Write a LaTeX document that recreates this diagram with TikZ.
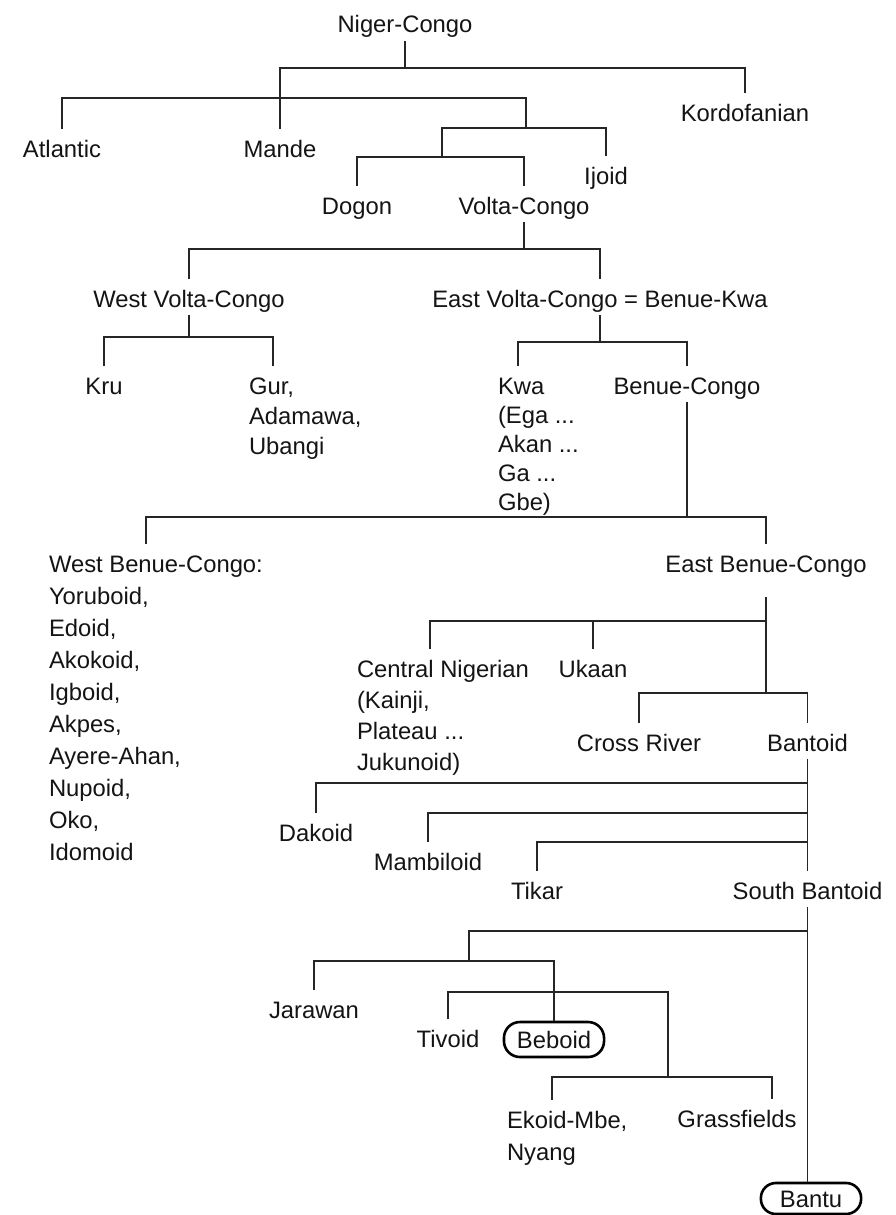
\documentclass[tikz,border=0pt]{standalone}
\usepackage{fontspec}
\setmainfont{Liberation Sans}
\newcommand{\lfont}{\fontsize{23.8}{30}\selectfont}
\newcommand{\mlines}[2]{\vtop{\baselineskip=#1\lineskiplimit=-100pt #2}}
\begin{document}
\begin{tikzpicture}[x=1pt,y=-1pt,
  lab/.style={inner sep=0pt, outer sep=0pt, text height=28pt, text depth=8pt, font=\lfont, text=black!92, anchor=base},
  labw/.style={lab, anchor=base west},
  boxed/.style={draw=black, line width=2.6pt, rounded corners=15pt, inner ysep=9pt, text height=17pt, text depth=0pt, font=\lfont, text=black!92},
  edge/.style={line width=1.5pt, draw=black!85}]
\useasboundingbox[fill=white] (0,0) rectangle (895,1215);

% ---- nodes ----
\node[lab] (nc) at (405,33) {Niger-Congo};
\node[lab] (kord) at (745,121) {Kordofanian};
\node[lab] (mande) at (280,157) {Mande};
\node[lab] (atl) at (62,157) {Atlantic};
\node[lab] (ijoid) at (606,184) {Ijoid};
\node[lab] (dogon) at (357,214) {Dogon};
\node[lab] (vc) at (524,214) {Volta-Congo};
\node[lab] (wvc) at (189,307) {West Volta-Congo};
\node[lab] (evc) at (600,307) {East Volta-Congo = Benue-Kwa};
\node[lab] (kru) at (104,394) {Kru};
\node[labw] (gur) at (249,394) {\mlines{30pt}{\hbox{Gur,}\hbox{Adamawa,}\hbox{Ubangi}}};
\node[labw] (kwa) at (498,394) {\mlines{29pt}{\hbox{Kwa}\hbox{(Ega ...}\hbox{Akan ...}\hbox{Ga ...}\hbox{Gbe)}}};
\node[lab] (bc) at (687,394) {Benue-Congo};
\node[labw] (wbc) at (49,572) {\mlines{32pt}{\hbox{West Benue-Congo:}\hbox{Yoruboid,}\hbox{Edoid,}\hbox{Akokoid,}\hbox{Igboid,}\hbox{Akpes,}\hbox{Ayere-Ahan,}\hbox{Nupoid,}\hbox{Oko,}\hbox{Idomoid}}};
\node[lab, text depth=25pt] (ebc) at (766,572) {East Benue-Congo};
\node[labw] (cn) at (357,677) {\mlines{31pt}{\hbox{Central Nigerian}\hbox{(Kainji,}\hbox{Plateau ...}\hbox{Jukunoid)}}};
\node[lab] (ukaan) at (593,677) {Ukaan};
\node[lab] (cr) at (639,751) {Cross River};
\node[lab] (bantoid) at (807.5,751) {Bantoid};
\node[lab] (dakoid) at (316,841) {Dakoid};
\node[lab] (mamb) at (428,870) {Mambiloid};
\node[lab] (tikar) at (537,899) {Tikar};
\node[lab] (sb) at (807.5,899) {South Bantoid};
\node[lab] (jarawan) at (314,1018) {Jarawan};
\node[lab] (tivoid) at (448,1047) {Tivoid};
\node[boxed, inner xsep=13pt, rounded corners=16pt] (beboid) at (554,1039.5) {Beboid};
\node[labw] (ekoid) at (507,1128) {\mlines{32pt}{\hbox{Ekoid-Mbe,}\hbox{Nyang}}};
\node[lab] (grass) at (737,1127) {Grassfields};
\node[boxed, inner xsep=19pt, inner ysep=7pt] (bantu) at (811,1198.5) {Bantu};

% ---- junction coordinates ----
\coordinate (yA) at (0,68);
\coordinate (yB) at (0,98);
\coordinate (j1) at (526,128);
\coordinate (j2) at (442,157);
\coordinate (yE) at (0,249);
\coordinate (yF) at (0,337);
\coordinate (yG) at (0,342);
\coordinate (yH) at (0,517);
\coordinate (yI) at (0,621);
\coordinate (yJ) at (0,693);
\coordinate (yDak) at (0,783);
\coordinate (yMam) at (0,813);
\coordinate (yTik) at (0,842);
\coordinate (yK) at (0,931);
\coordinate (j3) at (469,961);
\coordinate (yM) at (0,992);
\coordinate (j4) at (668,1077);
\coordinate (gurtop) at ([xshift=24pt]gur.north west);
\coordinate (kwatop) at ([xshift=20pt]kwa.north west);
\coordinate (wbctop) at ([xshift=97pt]wbc.north west);
\coordinate (cntop) at ([xshift=73pt]cn.north west);
\coordinate (ekoidtop) at ([xshift=45pt]ekoid.north west);
\coordinate (grasstop) at ([xshift=35pt]grass.north);

% ---- connectors ----
\draw[edge] (nc.south) -- (nc.south |- yA);
\draw[edge] (mande.north) |- (kord.north |- yA) -- (kord.north);
\draw[edge] (atl.north) |- (j1 |- yB) -- (j1);
\draw[edge] (j2) -- (j2 |- j1) -| (ijoid.north);
\draw[edge] (dogon.north) |- (vc.north |- j2) -- (vc.north);
\draw[edge] (vc.south) -- (vc.south |- yE);
\draw[edge] (wvc.north) |- (evc.north |- yE) -- (evc.north);
\draw[edge] (wvc.south) -- (wvc.south |- yF);
\draw[edge] (kru.north) |- (gurtop |- yF) -- (gurtop);
\draw[edge] (evc.south) -- (evc.south |- yG);
\draw[edge] (kwatop) |- (bc.north |- yG) -- (bc.north);
\draw[edge] (bc.south) -- (bc.south |- yH);
\draw[edge] (wbctop) |- (ebc.north |- yH) -- (ebc.north);
\draw[edge] (ebc.south) -- (ebc.south |- yJ);
\draw[edge] (cntop) |- (ebc.south |- yI);
\draw[edge] (ukaan.north) -- (ukaan.north |- yI);
\draw[edge] (cr.north) |- (bantoid.north |- yJ) -- (bantoid.north);
\draw[edge] (bantoid.south) -- (sb.north);
\draw[edge] (dakoid.north) |- (bantoid.south |- yDak);
\draw[edge] (mamb.north) |- (bantoid.south |- yMam);
\draw[edge] (tikar.north) |- (bantoid.south |- yTik);
\draw[edge] (sb.south) -- (sb.south |- bantu.north);
\draw[edge] (sb.south |- yK) -| (j3);
\draw[edge] (jarawan.north) |- (beboid.north |- j3) -- (beboid.north);
\draw[edge] (tivoid.north) |- (j4 |- yM) -- (j4);
\draw[edge] (ekoidtop) |- (grasstop |- j4) -- (grasstop);
\end{tikzpicture}
\end{document}
